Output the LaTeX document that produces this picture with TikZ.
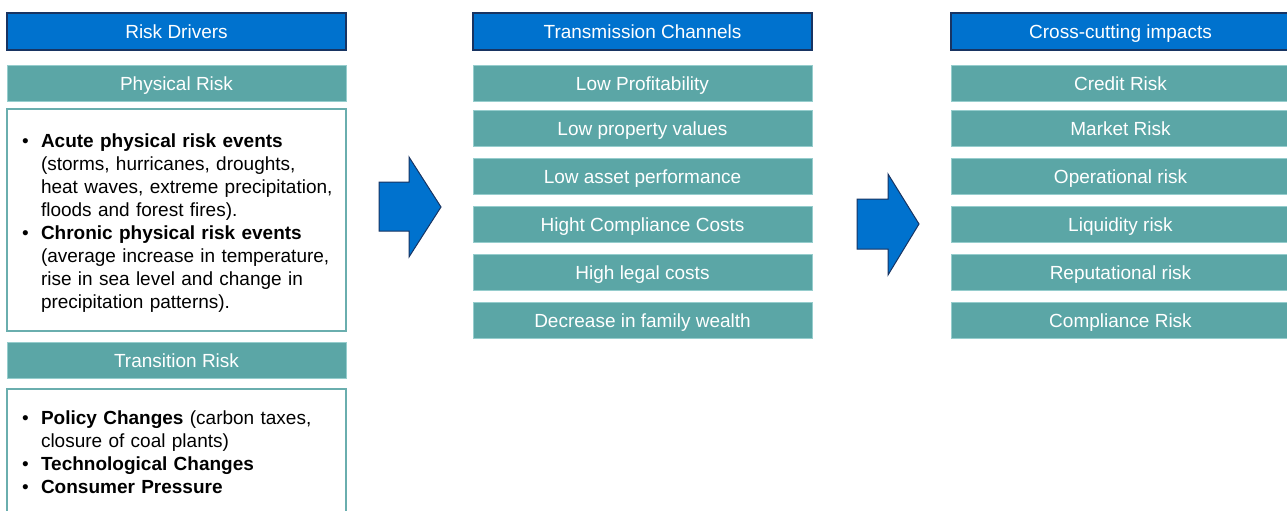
\documentclass[tikz,border=0pt]{standalone}
\usepackage{fontspec}
\setmainfont{Liberation Sans}
\definecolor{headblue}{RGB}{0,114,206}
\definecolor{navyline}{RGB}{24,52,98}
\definecolor{tealfill}{RGB}{91,166,166}
\definecolor{tealedge}{RGB}{150,205,205}
\definecolor{tealline}{RGB}{106,174,174}
\newcommand{\bulletline}[1]{{\hangindent=19pt\hangafter=1\noindent\makebox[19pt][l]{\textbullet}#1\par}}
\begin{document}
\begin{tikzpicture}[x=1pt,y=-1pt,
  every node/.style={inner sep=0pt,outer sep=0pt},
  labelfont/.style={font=\fontsize{19}{23}\selectfont},
  headbox/.style={labelfont,draw=navyline,line width=1.2pt,fill=headblue,text=white,
    minimum width=339pt,minimum height=37pt,text height=14pt,text depth=0pt},
  tealbox/.style={labelfont,draw=tealedge,line width=0.8pt,fill=tealfill,text=white,
    minimum width=339pt,minimum height=36pt,text height=14pt,text depth=0pt},
  listbox/.style={draw=tealline,line width=1.6pt,fill=white,minimum width=339pt},
  bodytext/.style={labelfont,text width=320pt,align=left,anchor=base west},
  blockarrow/.style={draw=navyline,line width=1pt,fill=headblue,line join=miter}
]
\useasboundingbox (0,0) rectangle (1287,511);
\clip (0,0) rectangle (1287,511);

% column 1: risk drivers
\node[headbox] (drivers) at (176.5,31.5) {Risk Drivers};
\node[tealbox] (physical) at (176.5,83) {Physical Risk};
\node[listbox,minimum height=222pt] (physbox) at (176.5,220) {};
\node[bodytext] (phystext) at (22,147) {%
  \bulletline{\textbf{Acute physical risk events}\newline (storms, hurricanes, droughts,\newline heat waves, extreme precipitation,\newline floods and forest fires).}%
  \bulletline{\textbf{Chronic physical risk events}\newline (average increase in temperature,\newline rise in sea level and change in\newline precipitation patterns).}};
\node[tealbox] (transition) at (176.5,360) {Transition Risk};
\node[listbox,minimum height=151pt] (transbox) at (176.5,464.5) {};
\node[bodytext] (transtext) at (22,424) {%
  \bulletline{\textbf{Policy Changes} (carbon taxes,\newline closure of coal plants)}%
  \bulletline{\textbf{Technological Changes}}%
  \bulletline{\textbf{Consumer Pressure}}};

% column 2: transmission channels
\node[headbox] (channels) at (642.5,31.5) {Transmission Channels};
\node[tealbox] (c1) at (642.5,83) {Low Profitability};
\node[tealbox] (c2) at (642.5,128) {Low property values};
\node[tealbox] (c3) at (642.5,176) {Low asset performance};
\node[tealbox] (c4) at (642.5,224) {Hight Compliance Costs};
\node[tealbox] (c5) at (642.5,272) {High legal costs};
\node[tealbox] (c6) at (642.5,320) {Decrease in family wealth};

% column 3: cross-cutting impacts
\node[headbox] (impacts) at (1120.5,31.5) {Cross-cutting impacts};
\node[tealbox] (i1) at (1120.5,83) {Credit Risk};
\node[tealbox] (i2) at (1120.5,128) {Market Risk};
\node[tealbox] (i3) at (1120.5,176) {Operational risk};
\node[tealbox] (i4) at (1120.5,224) {Liquidity risk};
\node[tealbox] (i5) at (1120.5,272) {Reputational risk};
\node[tealbox] (i6) at (1120.5,320) {Compliance Risk};

% block arrows between columns
\draw[blockarrow] (379,182) -- (409,182) -- (409,157) -- (441,207) -- (409,257)
  -- (409,231) -- (379,231) -- cycle;
\draw[blockarrow] (857,199) -- (888,199) -- (888,174) -- (919,224) -- (888,275)
  -- (888,249) -- (857,249) -- cycle;
\end{tikzpicture}
\end{document}
